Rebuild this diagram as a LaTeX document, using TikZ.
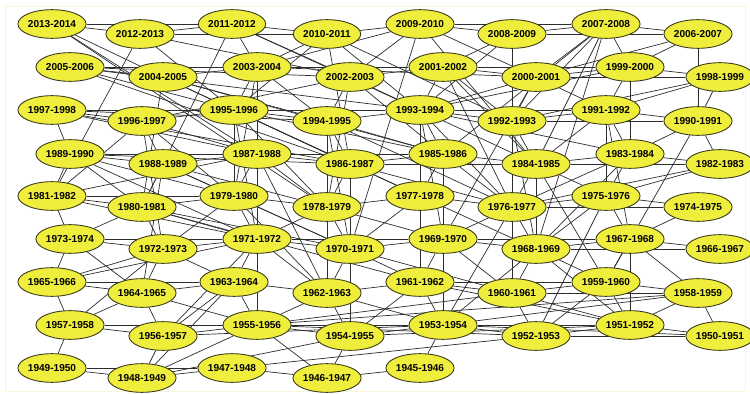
\documentclass[tikz,border=0pt]{standalone}
\usepackage{fontspec}
\setmainfont{Liberation Sans}
\usetikzlibrary{shapes.geometric}
\pgfdeclarelayer{bg}
\pgfsetlayers{bg,main}
\definecolor{nodefill}{RGB}{240,238,60}
\definecolor{nodeedge}{RGB}{55,55,25}
\definecolor{edgecol}{RGB}{45,45,45}
\definecolor{framecol}{RGB}{248,246,215}
\tikzset{
  yr/.style={ellipse, draw=nodeedge, line width=0.75pt, fill=nodefill,
    minimum width=1.97cm, minimum height=0.86cm, inner sep=0pt,
    font=\fontsize{8.6}{10}\selectfont\bfseries, text=black},
  edge/.style={draw=edgecol, line width=0.6pt}
}
\begin{document}
\begin{tikzpicture}[x=0.03cm,y=-0.03cm]
\useasboundingbox (0,0) rectangle (750,394);
\foreach \n/\x/\y in {2013/52/24,2012/140/34,2011/232/24,2010/327/34,2009/420/24,2008/512/34,2007/606/24,2006/698/34,
 2005/70/67,2004/163/77,2003/257/67,2002/350/77,2001/443/67,2000/536/77,1999/630/67,1998/720/77,
 1997/52/110,1996/142/121,1995/234/110,1994/327/121,1993/420/110,1992/512/121,1991/606/110,1990/698/121,
 1989/70/154,1988/163/164,1987/257/154,1986/350/164,1985/443/154,1984/536/164,1983/630/154,1982/720/164,
 1981/52/196,1980/142/207,1979/234/196,1978/327/207,1977/420/196,1976/512/207,1975/606/196,1974/698/207,
 1973/70/239,1972/163/249,1971/257/239,1970/350/249,1969/443/239,1968/536/249,1967/630/239,1966/720/249,
 1965/52/282,1964/142/293,1963/234/282,1962/327/293,1961/420/282,1960/512/293,1959/606/282,1958/698/293,
 1957/70/325,1956/163/336,1955/257/325,1954/350/336,1953/443/325,1952/536/336,1951/630/325,1950/720/336,
 1949/52/368,1948/142/378,1947/232/368,1946/327/378,1945/420/368}
 {\pgfmathtruncatemacro{\m}{\n+1}
  \node[yr] (n\n) at (\x,\y) {\n-\m};}
\begin{pgfonlayer}{bg}
\draw[framecol, line width=0.6pt] (5,6) rectangle (745,391);
\foreach \a/\b in {
2013/2012,2013/2011,2013/1987,2013/1978,2013/2004,
2012/2011,2012/2010,2012/1981,2012/2002,2012/1995,
2011/2010,2011/1980,2011/2002,2011/1993,2011/2003,
2010/2009,2010/2003,2010/1995,2010/1993,2010/1992,2010/1986,
2009/2008,2009/2007,2009/2002,2009/2003,2009/1970,2009/2000,2009/1984,
2008/2007,2008/2006,2008/2001,2008/1993,2008/1976,
2007/2006,2007/1999,2007/2000,2007/1992,2007/1984,2007/1985,2007/1968,
2006/1999,2006/1990,2006/2000,
2005/2003,2005/2002,2005/2001,2005/1995,2005/1993,2005/2004,2005/1986,
2004/2003,2004/1994,2004/1986,2004/1995,2004/1985,2004/1980,
2003/2001,2003/1995,2003/1994,2003/1987,2003/1979,2003/1971,2003/2000,
2002/1993,2002/1994,2002/2001,2002/1985,2002/1978,2002/1996,
2001/1993,2001/2000,2001/1984,2001/1992,2001/1976,2001/1999,
2000/1999,2000/1998,2000/1991,2000/1992,2000/1993,2000/1969,
1999/1998,1999/1983,1999/1991,1999/1993,
1998/1990,1998/1991,1998/1992,
1997/1995,1997/1996,1997/1993,1997/1994,1997/1987,1997/1989,1997/1986,
1996/1995,1996/1987,1996/1988,1996/1979,1996/1972,1996/1981,
1995/1994,1995/1993,1995/1986,1995/1979,1995/1978,1995/1971,1995/1977,1995/1985,
1994/1993,1994/1978,1994/1986,1994/1985,1994/1976,1994/1970,
1993/1992,1993/1991,1993/1985,1993/1984,1993/1976,1993/1977,1993/1969,1993/1983,
1992/1991,1992/1984,1992/1990,1992/1968,
1991/1990,1991/1983,1991/1984,1991/1975,1991/1967,
1990/1982,1990/1983,1990/1959,
1989/1988,1989/1987,1989/1981,1989/1980,1989/1979,1989/1971,1989/1986,1989/1985,
1988/1987,1988/1979,1988/1980,1988/1978,1988/1970,1988/1964,
1987/1986,1987/1978,1987/1979,1987/1985,1987/1971,1987/1962,
1986/1985,1986/1978,1986/1977,1986/1970,1986/1984,1986/1976,
1985/1984,1985/1976,1985/1977,1985/1969,
1984/1983,1984/1982,1984/1976,1984/1975,1984/1968,1984/1959,
1983/1982,1983/1975,1983/1976,1983/1968,
1982/1976,1982/1975,
1981/1980,1981/1979,1981/1987,1981/1973,1981/1971,
1980/1979,1980/1972,1980/1973,1980/1971,1980/1970,1980/1961,
1979/1978,1979/1971,1979/1970,1979/1962,1979/1972,
1978/1977,1978/1970,1978/1962,1978/1969,1978/1971,
1977/1976,1977/1970,1977/1961,1977/1968,
1976/1975,1976/1974,1976/1968,1976/1969,1976/1960,1976/1953,
1975/1974,1975/1967,1975/1968,1975/1952,
1974/1967,
1973/1972,1973/1971,1973/1965,1973/1964,
1972/1971,1972/1965,1972/1964,1972/1957,1972/1963,
1971/1970,1971/1963,1971/1962,1971/1969,1971/1955,1971/1956,
1970/1969,1970/1962,1970/1961,1970/1960,1970/1954,
1969/1968,1969/1961,1969/1960,1969/1967,1969/1953,
1968/1967,1968/1966,1968/1960,1968/1959,1968/1953,1968/1951,
1967/1966,1967/1959,1967/1958,1967/1951,
1965/1963,1965/1957,1965/1964,1965/1971,
1964/1955,1964/1957,1964/1956,1964/1963,
1963/1962,1963/1955,1963/1956,1963/1948,
1962/1961,1962/1953,1962/1955,1962/1954,
1961/1954,1961/1960,1961/1959,1961/1953,1961/1951,
1960/1959,1960/1952,1960/1951,1960/1958,1960/1955,
1959/1958,1959/1951,1959/1952,
1958/1951,1958/1950,1958/1953,1958/1955,
1957/1956,1957/1955,1957/1949,1957/1953,
1956/1955,1956/1948,1956/1953,
1955/1954,1955/1953,1955/1946,1955/1948,1955/1952,
1954/1953,1954/1946,1954/1951,
1953/1945,1953/1952,1953/1951,1953/1950,
1952/1951,1952/1950,
1951/1950,
1949/1948,1949/1947,
1948/1947,1948/1954,
1947/1946,1947/1952,
1946/1945}
 {\draw[edge] (n\a) -- (n\b);}
\end{pgfonlayer}
\end{tikzpicture}
\end{document}
